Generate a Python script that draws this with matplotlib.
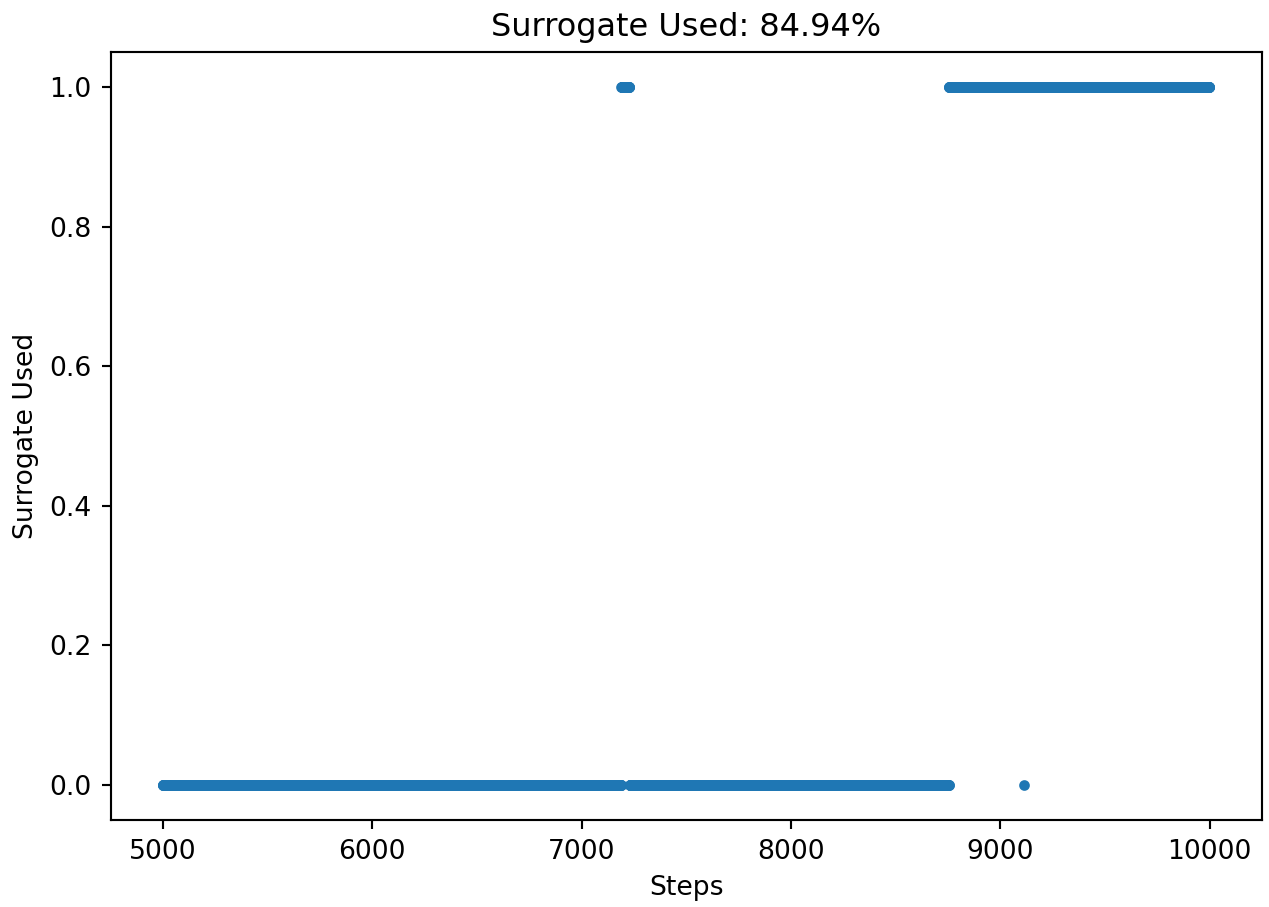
import numpy as np
import matplotlib
matplotlib.use("Agg")
import matplotlib.pyplot as plt

# Step range of the run and the stretches where the surrogate model was used
first_step = 5000
last_step = 9999
surrogate_runs = [(7190, 7228), (8755, 9999)]   # inclusive step ranges with flag = 1
real_steps_inside_runs = [9115]                  # isolated steps with flag = 0
title_pct = "84.94%"

steps = np.arange(first_step, last_step + 1)
used = np.zeros_like(steps, dtype=float)
for start, end in surrogate_runs:
    used[(steps >= start) & (steps <= end)] = 1.0
for s in real_steps_inside_runs:
    used[steps == s] = 0.0

dpi = 192
fig = plt.figure(figsize=(1269 / dpi, 907 / dpi), dpi=dpi)
ax = fig.add_axes([0.0871, 0.0959, 0.9943 - 0.0871, 0.9427 - 0.0959])
ax.scatter(steps, used, s=9, color="#1f77b4")
ax.set_title(f"Surrogate Used: {title_pct}")
ax.set_xlabel("Steps")
ax.set_ylabel("Surrogate Used")

fig.savefig("out.png", dpi=dpi)
